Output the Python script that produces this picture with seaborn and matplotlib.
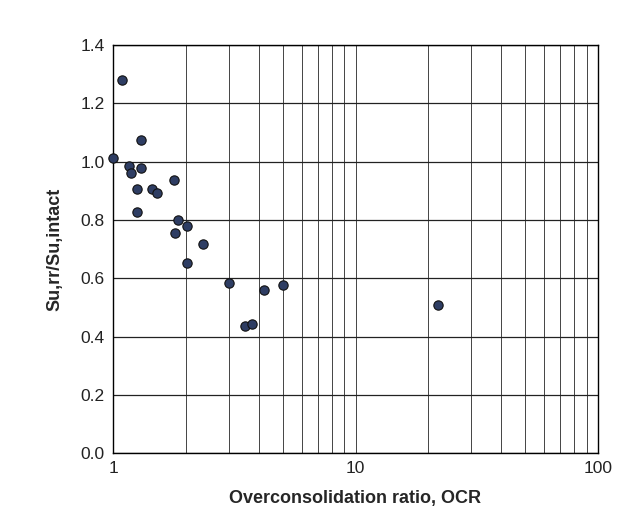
import numpy as np
import pandas as pd
import matplotlib
matplotlib.use("Agg")
import matplotlib.pyplot as plt
import seaborn as sns
from matplotlib.ticker import LogLocator, FixedLocator, FormatStrFormatter, NullFormatter

sns.set_theme(style="white")
plt.rcParams["font.family"] = ["Liberation Sans", "DejaVu Sans"]

# values
ocr = [1.00, 1.09, 1.30, 1.16, 1.19, 1.30, 1.25, 1.25, 1.45, 1.51, 1.79,
       1.85, 1.80, 2.01, 2.02, 2.35, 3.00, 3.49, 3.75, 4.20, 5.01, 21.97]
su_ratio = [1.012, 1.280, 1.073, 0.985, 0.960, 0.977, 0.905, 0.827, 0.907,
            0.892, 0.936, 0.800, 0.755, 0.779, 0.652, 0.719, 0.584, 0.437,
            0.442, 0.559, 0.576, 0.508]
y_ticks = [0.0, 0.2, 0.4, 0.6, 0.8, 1.0, 1.2, 1.4]

df = pd.DataFrame({"ocr": ocr, "ratio": su_ratio})

fig = plt.figure(figsize=(6.32, 5.25), dpi=100)
ax = fig.add_axes([0.179, 0.137, 0.767, 0.777])

sns.scatterplot(data=df, x="ocr", y="ratio", ax=ax, s=45,
                color="#2e3d63", edgecolor="#111111", linewidth=0.8,
                zorder=3, clip_on=False)

ax.set_xscale("log")
ax.set_xlim(1, 100)
ax.set_ylim(0, 1.4)
ax.xaxis.set_major_locator(LogLocator(base=10))
ax.xaxis.set_minor_locator(LogLocator(base=10, subs=np.arange(2, 10)))
ax.xaxis.set_minor_formatter(NullFormatter())
ax.xaxis.set_major_formatter(FormatStrFormatter("%g"))
ax.yaxis.set_major_locator(FixedLocator(y_ticks))
ax.yaxis.set_major_formatter(FormatStrFormatter("%.1f"))

ax.grid(True, which="both", axis="x", color="#444444", linewidth=0.7)
ax.grid(True, which="major", axis="y", color="#222222", linewidth=0.9)
ax.set_axisbelow(True)
for sp in ax.spines.values():
    sp.set_color("black")
    sp.set_linewidth(1.0)
ax.tick_params(axis="both", which="both", length=0, labelsize=12.5, colors="#222222", pad=6)

ax.set_xlabel("Overconsolidation ratio, OCR", fontsize=13, fontweight="bold", labelpad=10)
ax.set_ylabel("Su,rr/Su,intact", fontsize=13, fontweight="bold", labelpad=12)

fig.savefig("out.png", dpi=100, facecolor="white")
